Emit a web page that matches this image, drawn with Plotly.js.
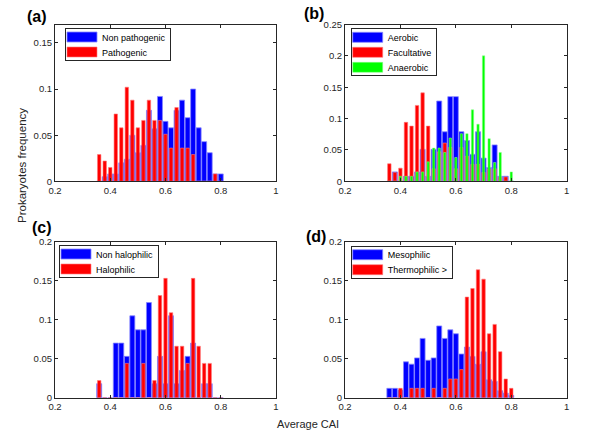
<!DOCTYPE html>
<html>
<head>
<meta charset="utf-8">
<script src="https://cdn.plot.ly/plotly-3.0.1.min.js"></script>
<style>
  html, body { margin: 0; padding: 0; background: #fff; }
  #chart { width: 600px; height: 437px; }
</style>
</head>
<body>
<div id="chart"></div>
<script>
// Bin centres (Average CAI)
const bins = [0.36,0.38,0.40,0.42,0.44,0.46,0.48,0.50,0.52,0.54,0.56,0.58,0.60,0.62,0.64,0.66,0.68,0.70,0.72,0.74,0.76,0.78,0.80];

// (a) pathogenicity
const nonPathogenic = [0,0.005,0.008,0.008,0.020,0.024,0.050,0.031,0.039,0.077,0.057,0.092,0.065,0.058,0.077,0.088,0.069,0.100,0.058,0.043,0.031,0.008,0.008];
const pathogenic    = [0.029,0.022,0.015,0.073,0.058,0.102,0.088,0.058,0.066,0.088,0.066,0.066,0.051,0.036,0.080,0.036,0.036,0.029,0,0,0,0.008,0];

// (b) oxygen requirement
const aerobic     = [0,0.015,0,0.008,0.008,0.015,0.051,0.008,0.051,0.128,0.079,0.135,0.135,0.079,0.065,0.043,0.079,0.037,0.022,0.058,0.008,0.008,0];
const facultative = [0.028,0.014,0.021,0.094,0.088,0.121,0.141,0.088,0.020,0.047,0.061,0.054,0.020,0.054,0.040,0.027,0.027,0.014,0.020,0.020,0.007,0.007,0];
const anaerobic   = [0,0,0.008,0.008,0.008,0.015,0.015,0.031,0.053,0.053,0.046,0.069,0.038,0.076,0.076,0.114,0.091,0.200,0.068,0.030,0.046,0,0.015];

// (c) salinity
const nonHalophilic = [0.018,0,0,0.070,0.070,0.053,0.105,0.087,0.087,0.122,0.018,0.053,0.018,0.105,0.018,0.035,0.053,0.070,0,0.018,0.018,0,0];
const halophilic    = [0.022,0,0,0,0,0.044,0,0,0.044,0,0.022,0.131,0.153,0.109,0.066,0.066,0.044,0.153,0.066,0.044,0.044,0,0];

// (d) temperature
const mesophilic   = [0.012,0.012,0.010,0.046,0.043,0.051,0.076,0.048,0.051,0.092,0.076,0.087,0.082,0.056,0.065,0.053,0.043,0.059,0.023,0.021,0.009,0.006,0.003];
const thermophilic = [0,0,0.012,0,0.012,0.012,0.012,0,0.012,0,0.012,0.024,0.024,0.036,0.129,0.140,0.164,0.152,0.082,0.094,0.059,0.024,0.012];

const FONT = 'Liberation Sans, Arial, Helvetica, sans-serif';
const AXC = '#262626';

const blueStyle  = {color: '#0000ff', line: {color: 'rgb(135,135,255)', width: 0.8}};
const redStyle   = {color: '#ff0000', line: {color: 'rgb(255,120,120)', width: 0.6}};
const greenStyle = {color: '#00ff00', line: {color: 'rgb(140,255,140)', width: 0.5}};

function bar(name, y, style, width, xa, ya, leg) {
  return {type: 'bar', name: name, x: bins, y: y, width: width,
          marker: style, xaxis: xa, yaxis: ya, legend: leg, hoverinfo: 'skip'};
}

const data = [
  bar('Non pathogenic', nonPathogenic, blueStyle, 0.018, 'x', 'y', 'legend'),
  bar('Pathogenic', pathogenic, redStyle, 0.0125, 'x', 'y', 'legend'),
  bar('Aerobic', aerobic, blueStyle, 0.018, 'x2', 'y2', 'legend2'),
  bar('Facultative', facultative, redStyle, 0.0125, 'x2', 'y2', 'legend2'),
  bar('Anaerobic', anaerobic, greenStyle, 0.0085, 'x2', 'y2', 'legend2'),
  bar('Non halophilic', nonHalophilic, blueStyle, 0.018, 'x3', 'y3', 'legend3'),
  bar('Halophilic', halophilic, redStyle, 0.0125, 'x3', 'y3', 'legend3'),
  bar('Mesophilic', mesophilic, blueStyle, 0.018, 'x4', 'y4', 'legend4'),
  bar('Thermophilic >', thermophilic, redStyle, 0.0125, 'x4', 'y4', 'legend4')
];

const W = 600, H = 437;
const colL = [55/W, 276/W], colR = [345/W, 566.7/W];
const rowT = [1 - 181.3/H, 1 - 24.5/H], rowB = [1 - 397.7/H, 1 - 241.7/H];

function xax(domain, anchor) {
  return {domain: domain, anchor: anchor, range: [0.2, 1], tick0: 0.2, dtick: 0.2,
          ticks: 'inside', ticklen: 3, tickcolor: AXC, mirror: 'allticks', showline: true,
          linecolor: AXC, linewidth: 1, showgrid: false, zeroline: false,
          tickfont: {family: FONT, size: 9.5, color: AXC}, fixedrange: true};
}
function yax(domain, anchor, top, dtick) {
  return {domain: domain, anchor: anchor, range: [0, top], tick0: 0, dtick: dtick,
          ticks: 'inside', ticklen: 3, tickcolor: AXC, mirror: 'allticks', showline: true,
          linecolor: AXC, linewidth: 1, showgrid: false, zeroline: false,
          tickfont: {family: FONT, size: 9.5, color: AXC}, fixedrange: true};
}
function leg(x, y) {
  return {x: x, y: y, xanchor: 'left', yanchor: 'top', bgcolor: '#ffffff',
          bordercolor: AXC, borderwidth: 1, font: {family: FONT, size: 9, color: '#000'},
          itemclick: false, itemdoubleclick: false, traceorder: 'normal'};
}
function label(text, px, py, extra) {
  return Object.assign({text: text, xref: 'paper', yref: 'paper', x: px / W, y: 1 - py / H,
          showarrow: false, xanchor: 'center', yanchor: 'middle',
          font: {family: FONT, size: 16, color: '#000'}}, extra || {});
}

const layout = {
  width: W, height: H, margin: {l: 0, r: 0, t: 0, b: 0},
  paper_bgcolor: '#fff', plot_bgcolor: '#fff',
  barmode: 'overlay', showlegend: true,
  xaxis: xax(colL, 'y'), yaxis: yax(rowT, 'x', 0.17, 0.05),
  xaxis2: xax(colR, 'y2'), yaxis2: yax(rowT, 'x2', 0.25, 0.05),
  xaxis3: xax(colL, 'y3'), yaxis3: yax(rowB, 'x3', 0.2, 0.05),
  xaxis4: xax(colR, 'y4'), yaxis4: yax(rowB, 'x4', 0.2, 0.05),
  legend: leg(65/W, 1 - 28/H),
  legend2: leg(350.7/W, 1 - 28.3/H),
  legend3: leg(59/W, 1 - 245/H),
  legend4: leg(350.7/W, 1 - 245.7/H),
  annotations: [
    label('<b>(a)</b>', 37, 17),
    label('<b>(b)</b>', 314, 13),
    label('<b>(c)</b>', 42, 227),
    label('<b>(d)</b>', 316, 236),
    label('Prokaryotes frequency', 22, 166, {textangle: -90, font: {family: FONT, size: 11.5, color: '#262626'}}),
    label('Average CAI', 308, 424, {font: {family: FONT, size: 11, color: '#262626'}})
  ]
};

// Give legend swatches the reference's wide-rectangle look and tighter row spacing.
function fixLegends(gd) {
  gd.querySelectorAll('.infolayer > g').forEach(function (lg) {
    if (!/^legend\d*$/.test(lg.getAttribute('class') || '')) return;
    var bg = lg.querySelector('rect.bg');
    if (!bg) return;
    var traces = lg.querySelectorAll('g.traces');
    var n = traces.length;
    var b = bg.getBoundingClientRect();
    var maxRight = b.left;
    traces.forEach(function (t, i) {
      t.querySelectorAll('g.legendpoints path').forEach(function (p) {
        p.setAttribute('d', 'M15,5H-15V-5H15Z');
      });
      var p = t.querySelector('g.legendpoints path');
      if (!p) return;
      var r = p.getBoundingClientRect();
      var m = /translate\(\s*([-\d.e]+)[ ,]+([-\d.e]+)\s*\)/.exec(t.getAttribute('transform') || '');
      var tx = m ? parseFloat(m[1]) : 0, ty = m ? parseFloat(m[2]) : 0;
      var dx = (b.left + 1.5) - r.left;
      var dy = (b.top + 8.5 + 15 * i) - (r.top + r.height / 2);
      t.setAttribute('transform', 'translate(' + (tx + dx) + ',' + (ty + dy) + ')');
      var txt = t.querySelector('text');
      if (txt) maxRight = Math.max(maxRight, txt.getBoundingClientRect().right);
    });
    bg.setAttribute('height', 17 + 15 * (n - 1));
    if (maxRight > b.left) bg.setAttribute('width', (maxRight + 5 - b.left).toFixed(1));
  });
}

const gd = document.getElementById('chart');
Plotly.newPlot(gd, data, layout, {displayModeBar: false, responsive: false, staticPlot: true}).then(function () {
  fixLegends(gd);
  gd.on && gd.on('plotly_afterplot', function () { fixLegends(gd); });
  setTimeout(function () { fixLegends(gd); }, 50);
  setTimeout(function () { fixLegends(gd); }, 300);
});
</script>
</body>
</html>
